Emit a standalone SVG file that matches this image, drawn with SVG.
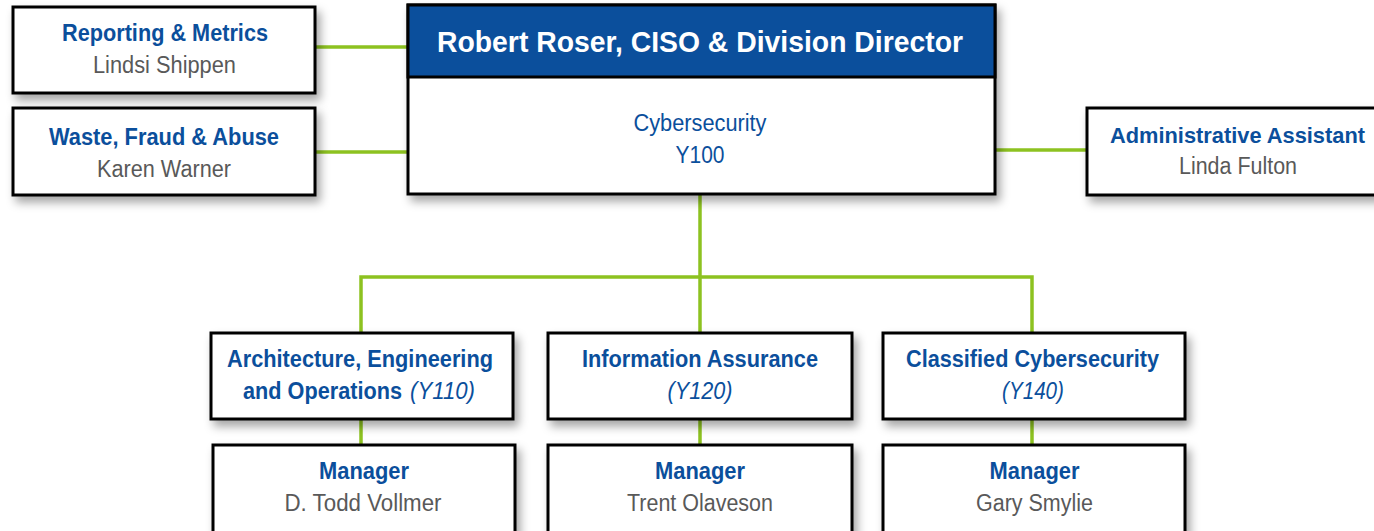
<svg xmlns="http://www.w3.org/2000/svg" width="1374" height="531" viewBox="0 0 1374 531">
<style>
.box{fill:#fff;stroke:#000;stroke-width:3;filter:url(#sh)}
.t{font-family:"Liberation Sans",Arial,sans-serif;text-anchor:middle}
.s{text-anchor:start}
.b{font-weight:bold;fill:#0b4f9c;font-size:23px}
.g{fill:#595959;font-size:23px}
.r{fill:#0b4f9c;font-size:23px}
.i{font-style:italic;font-weight:normal}
.c{stroke:#8DC220;stroke-width:3.5;fill:none}
</style>
<defs>
<filter id="sh" x="-10%" y="-20%" width="130%" height="160%">
<feDropShadow dx="4" dy="6" stdDeviation="5" flood-color="#000" flood-opacity="0.35"/>
</filter>
</defs>
<rect width="1374" height="531" fill="#fff"/>
<g id="connectors">
<line class="c" x1="315" y1="47" x2="408" y2="47"/>
<line class="c" x1="315" y1="152" x2="408" y2="152"/>
<line class="c" x1="995" y1="150" x2="1087" y2="150"/>
<polyline class="c" points="700,194 700,277"/>
<polyline class="c" points="361,333 361,277 1032,277 1032,333"/>
<line class="c" x1="700" y1="277" x2="700" y2="333"/>
<line class="c" x1="361" y1="419" x2="361" y2="445"/>
<line class="c" x1="700" y1="419" x2="700" y2="445"/>
<line class="c" x1="1032" y1="419" x2="1032" y2="445"/>
</g>
<g id="director">
<rect class="box" x="408" y="5" width="587" height="189"/>
<rect x="408" y="5" width="587" height="72" fill="#0b4f9c" stroke="#000" stroke-width="3"/>
<text class="t" x="700" y="52" fill="#fff" font-weight="bold" font-size="30" textLength="526" lengthAdjust="spacingAndGlyphs">Robert Roser, CISO &amp; Division Director</text>
<text class="t r" x="700" y="131" textLength="133" lengthAdjust="spacingAndGlyphs">Cybersecurity</text>
<text class="t r" x="700" y="163" textLength="49" lengthAdjust="spacingAndGlyphs">Y100</text>
</g>
<g id="reporting">
<rect class="box" x="13" y="7" width="302" height="86"/>
<text class="t b" x="165" y="41" textLength="206" lengthAdjust="spacingAndGlyphs">Reporting &amp; Metrics</text>
<text class="t g" x="164.5" y="73" textLength="143" lengthAdjust="spacingAndGlyphs">Lindsi Shippen</text>
</g>
<g id="waste">
<rect class="box" x="13" y="108" width="302" height="87"/>
<text class="t b" x="164" y="145" textLength="230" lengthAdjust="spacingAndGlyphs">Waste, Fraud &amp; Abuse</text>
<text class="t g" x="164" y="177" textLength="134" lengthAdjust="spacingAndGlyphs">Karen Warner</text>
</g>
<g id="admin">
<rect class="box" x="1087" y="108" width="302" height="87"/>
<text class="t b" x="1237.5" y="143" font-size="22" style="font-size:22px" textLength="255" lengthAdjust="spacingAndGlyphs">Administrative Assistant</text>
<text class="t g" x="1238" y="174" textLength="118" lengthAdjust="spacingAndGlyphs">Linda Fulton</text>
</g>
<g id="y110">
<rect class="box" x="211" y="333" width="302" height="86"/>
<text class="t b" x="360" y="367" textLength="266" lengthAdjust="spacingAndGlyphs">Architecture, Engineering</text>
<text class="t s b" x="243" y="399" textLength="159" lengthAdjust="spacingAndGlyphs">and Operations</text>
<text class="t s b i" x="410" y="399" textLength="65" lengthAdjust="spacingAndGlyphs">(Y110)</text>
</g>
<g id="y120">
<rect class="box" x="548" y="333" width="304" height="86"/>
<text class="t b" x="700" y="367" textLength="236" lengthAdjust="spacingAndGlyphs">Information Assurance</text>
<text class="t b i" x="700" y="399" textLength="65" lengthAdjust="spacingAndGlyphs">(Y120)</text>
</g>
<g id="y140">
<rect class="box" x="883" y="333" width="302" height="86"/>
<text class="t b" x="1032.5" y="367" textLength="253" lengthAdjust="spacingAndGlyphs">Classified Cybersecurity</text>
<text class="t b i" x="1033" y="399" textLength="62" lengthAdjust="spacingAndGlyphs">(Y140)</text>
</g>
<g id="mgr110">
<rect class="box" x="213" y="445" width="302" height="100"/>
<text class="t b" x="364" y="479" textLength="90" lengthAdjust="spacingAndGlyphs">Manager</text>
<text class="t g" x="363" y="511" textLength="157" lengthAdjust="spacingAndGlyphs">D. Todd Vollmer</text>
</g>
<g id="mgr120">
<rect class="box" x="548" y="445" width="304" height="100"/>
<text class="t b" x="700" y="479" textLength="90" lengthAdjust="spacingAndGlyphs">Manager</text>
<text class="t g" x="700" y="511" textLength="146" lengthAdjust="spacingAndGlyphs">Trent Olaveson</text>
</g>
<g id="mgr140">
<rect class="box" x="883" y="445" width="302" height="100"/>
<text class="t b" x="1034.5" y="479" textLength="90" lengthAdjust="spacingAndGlyphs">Manager</text>
<text class="t g" x="1034.5" y="511" textLength="117" lengthAdjust="spacingAndGlyphs">Gary Smylie</text>
</g>
</svg>
